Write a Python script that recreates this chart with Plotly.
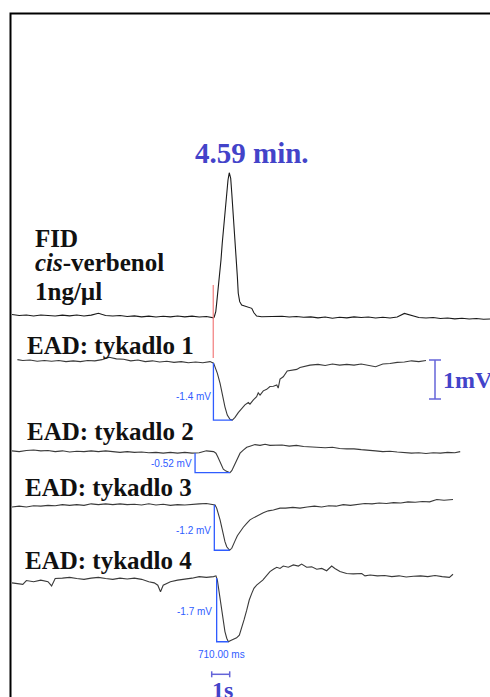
import numpy as np
import plotly.graph_objects as go

# ------------------------------------------------------------------ data
# FID trace: time (s) and detector response (relative units, peak ~100)
FID_T = [0.0, 0.4, 0.8, 1.2, 1.6, 2.0, 2.4, 2.8, 3.2, 3.6, 4.0, 4.4, 4.8, 5.2, 5.6, 6.0, 6.4, 6.8, 7.2, 7.6,
         8.0, 8.4, 8.8, 9.2, 9.6, 10.0, 10.4, 10.8, 11.1, 11.2,
         11.24, 11.32, 11.37, 11.43, 11.52, 11.61, 11.68, 11.76, 11.83, 11.93, 12.00, 12.07, 12.15, 12.21,
         12.28, 12.33, 12.39, 12.46, 12.52, 12.57, 12.65, 12.76, 12.94, 13.13, 13.32, 13.44, 13.59, 13.87,
         14.2, 14.6, 15.0, 15.4, 15.8, 16.2, 16.6, 17.0, 17.4, 17.8, 18.2, 18.6, 19.0, 19.4, 19.8, 20.2,
         20.6, 21.0, 21.4, 21.8, 22.2, 22.6, 23.0, 23.4, 23.8, 24.2, 24.6, 25.0, 25.4, 25.8, 26.2, 26.6]
FID_V = [1.1, 0.4, 0.7, 0.0, 0.7, 0.4, 0.0, 0.6, 0.1, 0.7, 0.0, 0.6, 1.9, 0.4, 0.0, 0.4, -0.4, 0.1, -0.6, -0.1,
         -0.7, -0.2, -0.6, 0.0, -0.6, -0.1, -0.7, -0.4, -1.1, -1.3,
         -0.5, 3.0, 8.9, 16.0, 27.7, 39.4, 51.2, 62.9, 74.6, 86.4, 95.8, 100.9, 97.0, 86.4,
         74.6, 62.9, 51.2, 39.4, 27.7, 16.0, 10.1, 7.7, 7.0, 6.5, 5.4, 2.3, 0.0, -0.5,
         -0.4, -0.7, -0.2, -0.7, -0.4, -0.9, -0.6, -1.3, -0.7, -1.6, -0.9, -1.3, -0.6, -1.1, -0.7, -1.4,
         -0.9, -1.4, -0.7, 1.8, 0.6, -1.1, -1.4, -1.1, -1.8, -1.4, -2.0, -1.6, -2.1, -1.8, -2.3, -2.1]

# EAD traces: time (s) and antennal response (mV)
EAD1_T = [0.3, 0.6, 1.0, 1.4, 1.8, 2.2, 2.6, 3.0, 3.4, 3.8, 4.2, 4.6, 5.0, 5.4, 5.8, 6.2, 6.6, 7.0, 7.4, 7.8,
          8.2, 8.6, 9.0, 9.4, 9.8, 10.2, 10.6, 11.0, 11.2,
          11.28, 11.41, 11.56, 11.68, 11.83, 11.96, 12.11, 12.24, 12.39, 12.57, 12.76, 12.94, 13.13, 13.22,
          13.41, 13.59, 13.68, 13.78, 13.96, 14.15, 14.33, 14.52, 14.71, 14.79, 14.89, 15.07, 15.29, 15.54,
          15.82, 16.00, 16.28, 16.56,
          17.0, 17.4, 17.8, 18.2, 18.6, 19.0, 19.4, 19.8, 20.2, 20.6, 21.0, 21.4, 21.8, 22.2, 22.6, 23.0]
EAD1_V = [0.06, 0.04, 0.05, 0.02, 0.04, 0.02, 0.04, 0.01, 0.03, 0.01, 0.04, 0.03, 0.06, 0.12, 0.08, 0.07, 0.03,
          0.05, 0.01, 0.03, 0.00, 0.02, -0.01, 0.01, -0.02, 0.00, -0.02, 0.01, -0.03,
          -0.12, -0.29, -0.55, -0.85, -1.15, -1.36, -1.47, -1.49, -1.42, -1.30, -1.19, -1.10, -1.04, -1.08,
          -0.97, -0.89, -0.79, -0.85, -0.74, -0.70, -0.63, -0.62, -0.59, -0.67, -0.44, -0.38, -0.23, -0.21,
          -0.19, -0.14, -0.10, -0.08,
          -0.06, -0.09, -0.05, -0.08, -0.06, -0.08, -0.05, -0.08, -0.12, -0.05, -0.04, -0.01, 0.00, 0.03, 0.01, 0.04]

EAD2_T = [0.0, 0.4, 0.8, 1.2, 1.6, 2.0, 2.4, 2.8, 3.2, 3.6, 4.0, 4.4, 4.8, 5.2, 5.6, 6.0, 6.4, 6.8, 7.2, 7.6,
          8.0, 8.4, 8.8, 9.2, 9.6, 10.0, 10.4, 10.8, 11.2,
          11.33, 11.43, 11.52, 11.61, 11.74, 11.89, 12.02, 12.11, 12.21, 12.30, 12.39, 12.52, 12.67, 12.85,
          13.04, 13.22, 13.50, 13.78, 14.06, 14.33,
          14.6, 15.0, 15.4, 15.8, 16.2, 16.6, 17.0, 17.4, 17.8, 18.2, 18.6, 19.0, 19.4, 19.8, 20.2, 20.6,
          21.0, 21.4, 21.8, 22.2, 22.6, 23.0, 23.4, 23.8, 24.2, 24.6, 24.9]
EAD2_V = [0.03, 0.01, 0.04, 0.05, 0.03, 0.04, 0.01, 0.03, 0.00, 0.02, 0.01, 0.03, 0.01, 0.03, 0.01, -0.01,
          0.01, -0.01, 0.00, -0.02, -0.01, -0.03, -0.01, -0.03, -0.01, -0.03, -0.02, 0.03, 0.01,
          -0.03, -0.12, -0.22, -0.33, -0.44, -0.49, -0.52, -0.53, -0.48, -0.39, -0.29, -0.16, -0.03, 0.05,
          0.12, 0.15, 0.19, 0.17, 0.20, 0.17,
          0.17, 0.18, 0.15, 0.17, 0.14, 0.13, 0.13, 0.11, 0.12, 0.09, 0.08, 0.08, 0.06, 0.05, 0.03, 0.01,
          0.02, 0.00, -0.01, -0.03, -0.02, -0.04, -0.02, -0.03, -0.01, -0.02, 0.01]

EAD3_T = [0.0, 0.4, 0.8, 1.2, 1.6, 2.0, 2.4, 2.8, 3.2, 3.6, 4.0, 4.4, 4.8, 5.2, 5.6, 6.0, 6.4, 6.8, 7.2, 7.6,
          8.0, 8.4, 8.8, 9.2, 9.6, 10.0, 10.4, 10.8, 11.2,
          11.28, 11.37, 11.46, 11.56, 11.65, 11.74, 11.83, 11.93, 12.02, 12.09, 12.21, 12.30, 12.39, 12.52,
          12.67, 12.85, 13.04, 13.22, 13.41, 13.68, 13.96, 14.24, 14.52, 14.89,
          15.2, 15.6, 16.0, 16.4, 16.8, 17.2, 17.6, 18.0, 18.4, 18.8, 19.2, 19.6, 20.0, 20.4, 20.8, 21.2,
          21.6, 22.0, 22.4, 22.8, 23.2, 23.6, 24.0, 24.4, 24.5]
EAD3_V = [-0.05, -0.03, -0.05, -0.02, -0.03, -0.01, -0.02, 0.01, -0.01, 0.01, -0.01, 0.03, 0.01, 0.03, 0.01,
          0.03, 0.01, 0.02, 0.00, 0.03, 0.00, 0.02, -0.01, 0.01, 0.00, 0.02, 0.03, 0.04, 0.01,
          0.00, -0.08, -0.21, -0.38, -0.57, -0.77, -0.94, -1.07, -1.14, -1.16, -1.11, -1.03, -0.92, -0.79,
          -0.68, -0.57, -0.47, -0.38, -0.33, -0.26, -0.20, -0.15, -0.13, -0.08,
          -0.08, -0.06, -0.08, -0.05, -0.03, -0.05, -0.02, -0.03, 0.01, -0.01, 0.01, 0.04, 0.03, 0.05, 0.04,
          0.06, 0.05, 0.08, 0.07, 0.09, 0.08, 0.14, 0.12, 0.15, 0.14]

EAD4_T = [0.0, 0.3, 0.6, 0.8, 1.2, 1.6, 2.0, 2.2, 2.4, 2.8, 3.2, 3.6, 4.0, 4.4, 4.8, 5.2, 5.6, 6.0, 6.4, 6.8,
          7.2, 7.6, 7.9, 8.1, 8.25, 8.4, 8.8, 9.2, 9.6, 10.0, 10.4, 10.8, 11.2,
          11.33, 11.41, 11.46, 11.56, 11.65, 11.74, 11.83, 11.93, 12.02, 12.15, 12.30, 12.48, 12.63, 12.76,
          12.89, 13.04, 13.18, 13.32, 13.44, 13.59, 13.78, 13.93, 14.06, 14.18, 14.33, 14.52, 14.71, 14.89,
          15.07, 15.35, 15.63, 15.91, 16.09, 16.37, 16.65, 16.93, 17.21, 17.48, 17.76, 17.94, 18.22, 18.59,
          18.96, 19.43, 19.61,
          19.9, 20.3, 20.7, 21.1, 21.5, 21.9, 22.3, 22.7, 23.1, 23.5, 23.9, 24.3, 24.5]
EAD4_V = [-0.15, -0.17, -0.19, -0.09, -0.12, -0.08, -0.12, -0.23, -0.04, -0.03, -0.01, -0.04, -0.06, -0.03,
          -0.01, -0.04, -0.06, -0.03, -0.05, -0.03, -0.06, -0.12, -0.15, -0.21, -0.38, -0.21, -0.12, -0.08,
          -0.06, -0.03, 0.01, -0.01, 0.01,
          0.03, -0.08, -0.25, -0.55, -0.85, -1.15, -1.40, -1.57, -1.66, -1.63, -1.60, -1.56, -1.49, -1.32,
          -1.10, -0.85, -0.59, -0.42, -0.29, -0.21, -0.15, -0.08, -0.01, 0.05, 0.14, 0.20, 0.25, 0.22,
          0.28, 0.25, 0.31, 0.28, 0.33, 0.25, 0.26, 0.20, 0.22, 0.16, 0.28, 0.22, 0.14, 0.09,
          0.08, 0.09, 0.03,
          0.05, 0.03, 0.04, 0.01, 0.03, 0.00, 0.02, 0.03, 0.01, 0.04, 0.01, -0.01, 0.07]

EAD_NAMES = ["EAD: tykadlo 1", "EAD: tykadlo 2", "EAD: tykadlo 3", "EAD: tykadlo 4"]
EAD_ONSET_S = [11.19, 10.17, 11.24, 11.37]          # start of measured depolarisation
EAD_AMPLITUDE_LABELS = ["-1.4 mV", "-0.52 mV", "-1.2 mV", "-1.7 mV"]
DELAY_LABEL = "710.00 ms"
FID_ONSET_S = 11.18
PEAK_LABEL = "4.59 min."
FID_LABEL_LINES = ["FID", "<i>cis</i>-verbenol", "1ng/µl"]
SCALE_V_MV, SCALE_V_LABEL = 1.0, "1mV"
SCALE_T_S, SCALE_T_LABEL = 1.0, "1s"

# ------------------------------------------------------------------ layout constants
W, H = 490, 697
X0_PX = 12.0          # pixel of t = 0
PX_PER_S = 18.0
PX_PER_MV = 39.0
FID_PX_PER_UNIT = 1.42
BASE_FID_PX = 316.0
BASE_EAD_PX = [362.0, 452.0, 505.0, 577.0]

SERIF = "Liberation Serif, Times New Roman, serif"
SANS = "Liberation Sans, Arial, sans-serif"
TITLE_BLUE = "#4343c9"
MEAS_BLUE = "#2f5cff"
SCALE_BLUE = "#6464d8"
RED = "#f27c7c"


def ax_x(px):
    return (px - X0_PX) / PX_PER_S


def ax_y(py):
    return -py / PX_PER_MV


fig = go.Figure()

# FID trace
fid_y = np.array(FID_V) * FID_PX_PER_UNIT / PX_PER_MV + ax_y(BASE_FID_PX)
fig.add_trace(go.Scatter(x=FID_T, y=fid_y, mode="lines",
                         line=dict(color="#1a1a1a", width=1.1), hoverinfo="skip"))

# EAD traces + amplitude brackets
ead_t = [EAD1_T, EAD2_T, EAD3_T, EAD4_T]
ead_v = [EAD1_V, EAD2_V, EAD3_V, EAD4_V]
for i in range(4):
    t = np.array(ead_t[i])
    v = np.array(ead_v[i])
    off = ax_y(BASE_EAD_PX[i])
    fig.add_trace(go.Scatter(x=t, y=v + off, mode="lines",
                             line=dict(color="#3a3a3a", width=1.1), hoverinfo="skip"))
    on = EAD_ONSET_S[i]
    top = np.interp(on, t, v)
    k = int(np.argmin(v))
    fig.add_trace(go.Scatter(x=[on, on, t[k]], y=[top + off, v[k] + off, v[k] + off],
                             mode="lines", line=dict(color=MEAS_BLUE, width=1.3), hoverinfo="skip"))

# red marker line at FID peak onset
fig.add_shape(type="line", xref="x", yref="y", x0=FID_ONSET_S, x1=FID_ONSET_S,
              y0=ax_y(285), y1=ax_y(358), line=dict(color=RED, width=1.2))

# 1 mV scale bar
sx = ax_x(435)
sy0 = ax_y(360)
cap = 6 / PX_PER_S
for (xa, ya, xb, yb) in [(sx, sy0, sx, sy0 - SCALE_V_MV),
                         (sx - cap, sy0, sx + cap, sy0),
                         (sx - cap, sy0 - SCALE_V_MV, sx + cap, sy0 - SCALE_V_MV)]:
    fig.add_shape(type="line", xref="x", yref="y", x0=xa, y0=ya, x1=xb, y1=yb,
                  line=dict(color=SCALE_BLUE, width=1.5))

# 1 s scale bar
tx0 = ax_x(211.7)
ty = ax_y(674.3)
capy = 3 / PX_PER_MV
for (xa, ya, xb, yb) in [(tx0, ty, tx0 + SCALE_T_S, ty),
                         (tx0, ty - capy, tx0, ty + capy),
                         (tx0 + SCALE_T_S, ty - capy, tx0 + SCALE_T_S, ty + capy)]:
    fig.add_shape(type="line", xref="x", yref="y", x0=xa, y0=ya, x1=xb, y1=yb,
                  line=dict(color=SCALE_BLUE, width=1.5))

# frame (right and bottom edges fall outside the picture)
fig.add_shape(type="rect", xref="paper", yref="paper",
              x0=10.5 / W, x1=1.05, y0=-0.05, y1=1 - 13.5 / H,
              line=dict(color="#000000", width=2))


def label(text, px, py, size, color, family, xanchor="left", bold=True):
    fig.add_annotation(x=ax_x(px), y=ax_y(py), xref="x", yref="y",
                       text=f"<b>{text}</b>" if bold else text, showarrow=False,
                       xanchor=xanchor, yanchor="middle",
                       font=dict(size=size, color=color, family=family))


label(PEAK_LABEL, 252, 153, 29, TITLE_BLUE, SERIF, "center")
for txt, py in zip(FID_LABEL_LINES, [238.5, 262, 291]):
    label(txt, 33, py, 25, "#111111", SERIF)
for name, px, py in zip(EAD_NAMES, [25, 25, 23, 23], [345, 431, 487.5, 560.5]):
    label(name, px, py, 25, "#111111", SERIF)
for txt, px, py in zip(EAD_AMPLITUDE_LABELS, [213, 194, 213, 214], [396, 463, 530, 611.7]):
    label(txt, px, py, 10, MEAS_BLUE, SANS, "right", bold=False)
label(DELAY_LABEL, 221.7, 654, 10, MEAS_BLUE, SANS, "center", bold=False)
label(SCALE_V_LABEL, 441, 379.5, 24, TITLE_BLUE, SERIF)
label(SCALE_T_LABEL, 222.5, 689.7, 24, TITLE_BLUE, SERIF, "center")

fig.update_layout(
    width=W, height=H, autosize=False,
    margin=dict(l=0, r=0, t=0, b=0, pad=0),
    paper_bgcolor="white", plot_bgcolor="white",
    showlegend=False,
    xaxis=dict(range=[ax_x(0), ax_x(W)], visible=False, fixedrange=True),
    yaxis=dict(range=[ax_y(H), ax_y(0)], visible=False, fixedrange=True),
)

fig.write_html("out.html", config={"displayModeBar": False},
               post_script="document.body.style.margin='0px';")
